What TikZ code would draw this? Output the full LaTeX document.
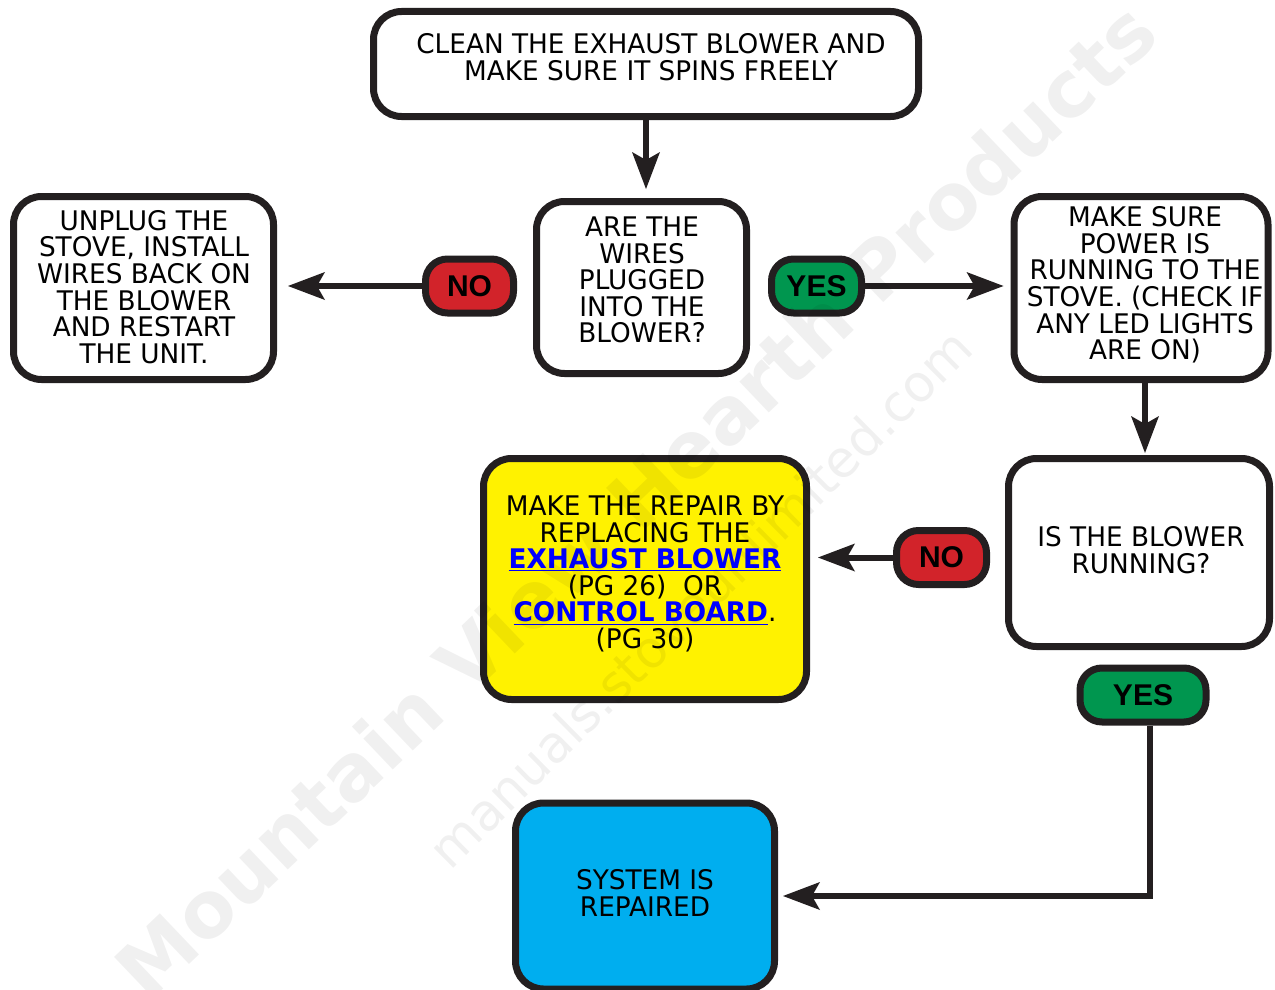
\documentclass[tikz,border=0pt]{standalone}
\usepackage{fontspec}
\setmainfont{DejaVu Sans}[FakeStretch=0.975]
\newfontfamily\pillfont{Liberation Sans}
\newfontfamily\wmfont{DejaVu Sans}
\usetikzlibrary{arrows.meta}
\definecolor{ink}{HTML}{231F20}
\definecolor{fillyellow}{HTML}{FFF200}
\definecolor{fillblue}{HTML}{00AEEF}
\definecolor{pillred}{HTML}{D2232A}
\definecolor{pillgreen}{HTML}{00964F}
\definecolor{linkblue}{HTML}{0000FF}
\newcommand{\lnk}[1]{\textcolor{linkblue}{\underline{\bfseries #1}}}
\begin{document}
\begin{tikzpicture}[x=1pt,y=-1pt,
  box/.style={draw=ink, line width=7pt, rounded corners=28pt, fill=white, inner sep=0pt},
  txt/.style={align=center, inner sep=0pt, font=\fontsize{27}{26.6}\selectfont},
  pill/.style={draw=ink, line width=7pt, rounded corners=22pt, minimum height=54pt, inner sep=0pt, font=\pillfont\bfseries\fontsize{30}{30}\selectfont},
  arr/.style={draw=ink, line width=6pt, -{Stealth[length=37pt,width=28pt,inset=8pt,line width=0pt]}},
  wm/.style={text=black, opacity=0.06, inner sep=0pt}]
\useasboundingbox (0,0) rectangle (1275,990);

% boxes
\node[box, minimum width=545pt, minimum height=105pt] (top) at (646,64) {};
\node[txt] (toptxt) at (651,57) {CLEAN THE EXHAUST BLOWER AND\\MAKE SURE IT SPINS FREELY};

\node[box, minimum width=210pt, minimum height=172pt] (wires) at (641.5,287.5) {};
\node[txt] (wirestxt) at (642,280) {ARE THE\\WIRES\\PLUGGED\\INTO THE\\BLOWER?};

\node[box, minimum width=260pt, minimum height=183pt] (left) at (143.5,288) {};
\node[txt] (lefttxt) at (144,287) {UNPLUG THE\\STOVE, INSTALL\\WIRES BACK ON\\THE BLOWER\\AND RESTART\\THE UNIT.};

\node[box, minimum width=254pt, minimum height=183pt] (right) at (1141,288) {};
\node[txt] (righttxt) at (1145,285) {MAKE SURE\\POWER IS\\RUNNING TO THE\\STOVE. (CHECK IF\\ANY LED LIGHTS\\ARE ON)};

\node[box, fill=fillyellow, minimum width=323pt, minimum height=241pt] (repair) at (645,579) {};
\node[txt] (repairtxt) at (645,574) {MAKE THE REPAIR BY\\REPLACING THE\\\lnk{EXHAUST BLOWER}\\(PG 26)\ \ OR\\\lnk{CONTROL BOARD}.\\(PG 30)};

\node[box, minimum width=261pt, minimum height=188pt] (running) at (1139,552.5) {};
\node[txt] (runningtxt) at (1141,550) {IS THE BLOWER\\RUNNING?};

\node[box, fill=fillblue, minimum width=259pt, minimum height=186pt] (repaired) at (645,896) {};
\node[txt] (repairedtxt) at (645,893) {SYSTEM IS\\REPAIRED};

% pills
\node[pill, fill=pillred, minimum width=88pt] (no1) at (469.5,286) {NO};
\node[pill, fill=pillgreen, minimum width=90pt] (yes1) at (816.5,286) {YES};
\node[pill, fill=pillred, minimum width=90pt] (no2) at (941.5,557.5) {NO};
\node[pill, fill=pillgreen, minimum width=126pt] (yes2) at (1143,695) {YES};

% connectors
\draw[arr, shorten >=9pt] (top.south) -- (top.south |- wires.north);
\draw[arr, shorten >=11pt] (no1.west) -- (no1.west -| left.east);
\draw[arr, shorten >=7pt] (yes1.east) -- (yes1.east -| right.west);
\draw[arr, shorten >=2pt] ([xshift=4pt]right.south) -- ([xshift=4pt]right.south |- running.north);
\draw[arr, shorten >=8pt] (no2.west) -- (no2.west -| repair.east);
\draw[arr, shorten >=5pt] ([xshift=7pt]yes2.south) |- (repaired.east);

% watermark
\node[wm, rotate=43.6, font=\wmfont\bfseries\fontsize{78}{78}\selectfont] (wm1) at (635,500) {Mountain View Hearth Products};
\node[wm, rotate=44.7, font=\wmfont\fontsize{51}{51}\selectfont] (wm2) at (700,598) {manuals.stoveunlimited.com};
\end{tikzpicture}
\end{document}
